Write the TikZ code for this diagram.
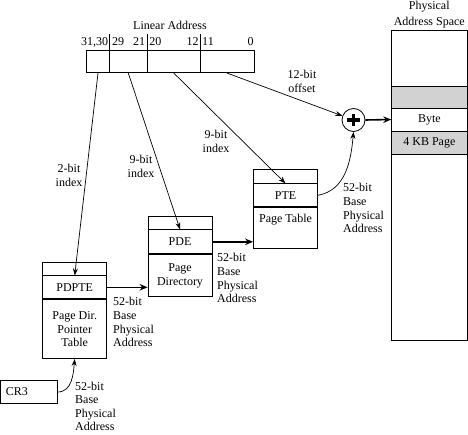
\documentclass[tikz,border=0pt]{standalone}
\usepackage{fontspec}
\setmainfont{Liberation Serif}
\usetikzlibrary{arrows.meta}
\begin{document}
\begin{tikzpicture}[x=1pt,y=-1pt,
  font=\fontsize{12}{13.8}\selectfont,
  cell/.style={draw, line width=0.8pt, inner sep=0pt, minimum width=64pt},
  lacell/.style={draw, line width=0.8pt, inner sep=0pt, minimum height=22.7pt},
  lbl/.style={inner sep=0pt, align=left, anchor=north west},
  clbl/.style={inner sep=0pt, align=center, anchor=north},
  bitno/.style={inner sep=0pt, anchor=base},
  arr/.style={line width=0.7pt, -{Stealth[length=7pt,width=5pt]}},
  thickarr/.style={line width=1.6pt, -{Stealth[length=8pt,width=6.5pt]}},
  shade/.style={fill=gray!35},
]
\useasboundingbox (0,0) rectangle (468,434);

% Linear address
\node[inner sep=0pt, anchor=base] (latitle) at (170,29) {Linear Address};
\node[lacell, minimum width=22.6pt] (la1) at (98,61.35) {};
\node[lacell, minimum width=38pt] (la2) at (128.3,61.35) {};
\node[lacell, minimum width=53pt] (la3) at (173.8,61.35) {};
\node[lacell, minimum width=53.7pt] (la4) at (227.15,61.35) {};
\foreach \c in {la1,la2,la3}
  \draw[line width=0.8pt] (\c.north east) -- ++(0,-16);
\node[bitno] (b3130) at (94.7,45) {31,30};
\node[bitno] (b29) at (118,45) {29};
\node[bitno] (b21) at (139,45) {21};
\node[bitno] (b20) at (155.3,45) {20};
\node[bitno] (b12) at (192.5,45) {12};
\node[bitno] (b11) at (208,45) {11};
\node[bitno] (b0) at (250.6,45) {0};

% Physical address space
\node[clbl, font=\fontsize{12}{16}\selectfont] (pastitle) at (429.3,0.8) {Physical\\Address Space};
\node[draw, line width=0.8pt, inner sep=0pt, minimum width=75.3pt, minimum height=310pt] (pas) at (429.35,185) {};
\node[draw, shade, line width=0.8pt, inner sep=0pt, minimum width=75.3pt, minimum height=22pt] (band) at (429.35,97) {};
\node[draw, line width=0.8pt, inner sep=0pt, minimum width=75.3pt, minimum height=23pt] (byte) at (429.35,119.5) {Byte};
\node[draw, shade, line width=0.8pt, inner sep=0pt, minimum width=75.3pt, minimum height=23pt] (page) at (429.35,142.5) {4 KB Page};

% Adder
\node[draw, circle, line width=0.8pt, minimum size=23pt, inner sep=0pt,
  path picture={\draw[line width=3.6pt] ([xshift=-6.2pt]path picture bounding box.center) -- ([xshift=6.2pt]path picture bounding box.center);
                \draw[line width=3.6pt] ([yshift=-6.2pt]path picture bounding box.center) -- ([yshift=6.2pt]path picture bounding box.center);}]
  (plus) at (353.5,120) {};

% PTE table
\node[cell, minimum height=14pt] (pteTop) at (285.5,176) {};
\node[cell, minimum height=23pt, anchor=north] (pteRow) at (pteTop.south) {PTE};
\node[cell, minimum height=41pt, anchor=north] (pteBody) at (pteRow.south) {};
\node[inner sep=0pt, anchor=base] (pteText) at (285.5,222.5) {Page Table};

% PDE table
\node[cell, minimum height=13pt] (pdeTop) at (180,222.5) {};
\node[cell, minimum height=24pt, anchor=north] (pdeRow) at (pdeTop.south) {PDE};
\node[cell, minimum height=42pt, anchor=north, align=center] (pdeBody) at (pdeRow.south) {Page\\Directory};

% PDPTE table
\node[cell, minimum height=13pt] (pdpteTop) at (74.7,268.5) {};
\node[cell, minimum height=23pt, anchor=north] (pdpteRow) at (pdpteTop.south) {PDPTE};
\node[cell, minimum height=59pt, anchor=north, align=center] (pdpteBody) at (pdpteRow.south) {Page Dir.\\Pointer\\Table};

% CR3
\node[draw, line width=0.8pt, inner ysep=0pt, inner xsep=5pt, text width=46.5pt, align=left, minimum height=22.3pt] (cr3) at (29,392) {CR3};

% Labels
\node[clbl] (offlbl) at (302,70) {12-bit\\offset};
\node[clbl] (ptelbl) at (216,130) {9-bit\\index};
\node[clbl] (pdelbl) at (141,155) {9-bit\\index};
\node[clbl] (pdptelbl) at (69,164) {2-bit\\index};
\node[lbl] (ptebase) at (343,183) {52-bit\\Base\\Physical\\Address};
\node[lbl] (pdebase) at (217,253) {52-bit\\Base\\Physical\\Address};
\node[lbl] (pdptebase) at (113,297) {52-bit\\Base\\Physical\\Address};
\node[lbl, font=\fontsize{12}{13.4}\selectfont] (cr3base) at (75,382) {52-bit\\Base\\Physical\\Address};

% Connectors
\draw[arr] (la1.south) -- (pdpteTop.south);
\draw[arr] (la2.south) -- (pdeTop.south);
\draw[arr] (la3.south) -- (pteTop.south);
\draw[arr] (la4.south) -- (plus);
\draw[thickarr] (plus.east) -- (byte.west);
\draw[arr] (pteRow.east) to[out=10,in=-95] (plus.south);
\draw[thickarr] (pdeRow.east) -- (pdeRow.east -| pteBody.west);
\draw[thickarr] (pdpteRow.east) -- (pdpteRow.east -| pdeBody.west);
\draw[arr] (cr3.east) to[out=0,in=-95] (pdpteBody.south);
\end{tikzpicture}
\end{document}
